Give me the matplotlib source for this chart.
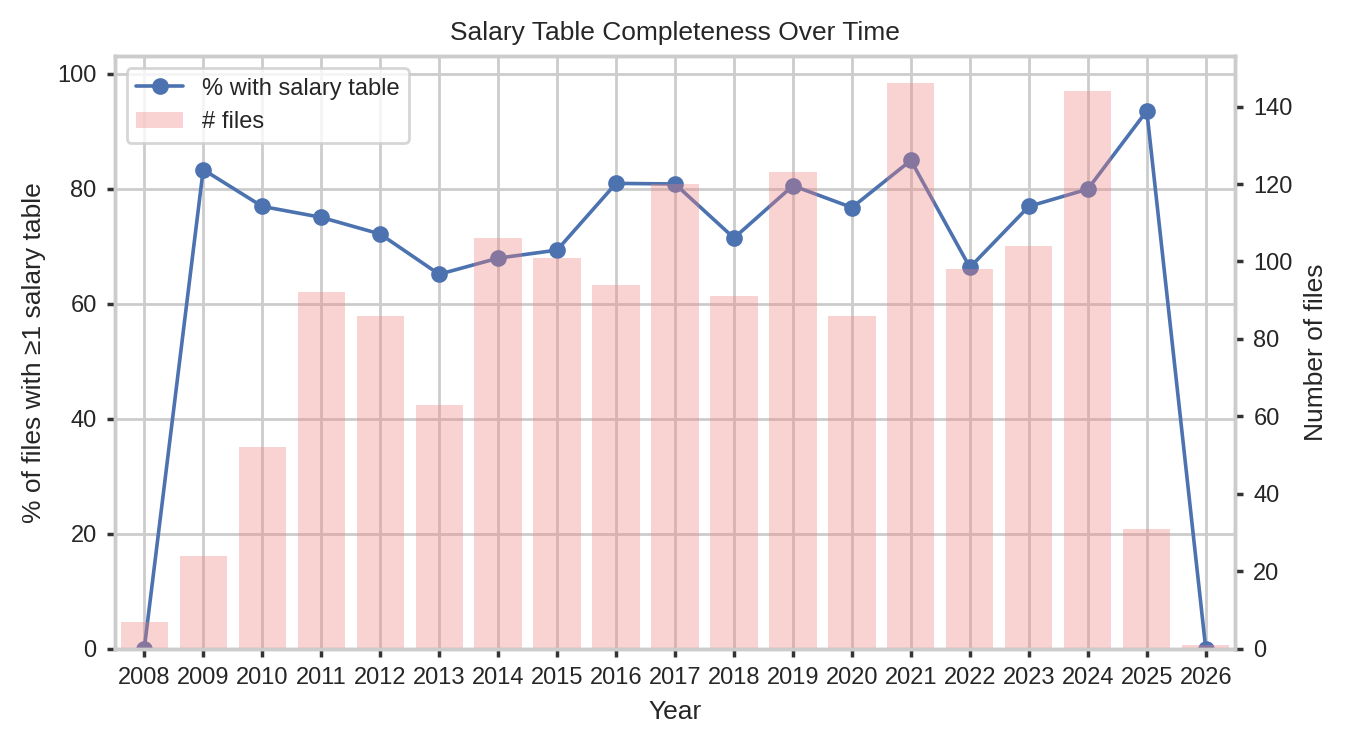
import matplotlib
matplotlib.use("Agg")
import matplotlib.pyplot as plt
import seaborn as sns

years = list(range(2008, 2027))
pct = [0, 83.3, 76.9, 75.0, 72.1, 65.1, 67.9, 69.3, 80.9, 80.8, 71.4, 80.5, 76.7, 84.9, 66.3, 76.9, 79.9, 93.5, 0]
files = [7, 24, 52, 92, 86, 63, 106, 101, 94, 120, 91, 123, 86, 146, 98, 104, 144, 31, 1]

sns.set_theme(style="whitegrid")
plt.rcParams.update({"xtick.bottom": True, "ytick.left": True, "ytick.right": True,
                     "axes.edgecolor": "#cccccc",
                     "font.family": ["Liberation Sans", "DejaVu Sans"]})
fig, ax = plt.subplots(figsize=(6.75, 3.75), dpi=200)
ax2 = ax.twinx()
line, = ax.plot(years, pct, marker="o", color="#4c72b0", label="% with salary table", markersize=5, lw=1.3)
bars = ax2.bar(years, files, color="lightcoral", alpha=0.35, width=0.8, linewidth=0, label="# files")
ax2.grid(False)
ax.set_ylim(0, 103)
ax2.set_ylim(0, 153)
ax.set_xlim(2007.5, 2026.5)
ax.set_xticks(years)
ax.set_xticklabels([str(y) for y in years], fontsize=8.5)
ax.tick_params(axis="y", labelsize=8.5, left=True, length=3, color="#333333")
ax.tick_params(axis="x", bottom=True, length=3, color="#333333")
ax2.tick_params(axis="y", labelsize=8.5, right=True, length=3, color="#333333")
ax2.set_yticks(range(0, 141, 20))
ax.set_xlabel("Year", fontsize=9.5)
ax.set_ylabel("% of files with ≥1 salary table", fontsize=9.5)
ax2.set_ylabel("Number of files", fontsize=9.5)
ax.set_title("Salary Table Completeness Over Time", fontsize=9.5)
ax2.legend([line, bars], ["% with salary table", "# files"], loc="upper left", fontsize=8.5)
fig.subplots_adjust(left=0.085, right=0.915, top=0.925, bottom=0.135)
fig.savefig("out.png")
